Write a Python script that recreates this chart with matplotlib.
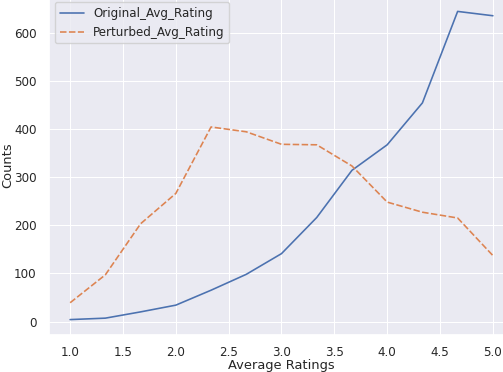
import numpy as np
import matplotlib
matplotlib.use('Agg')
import matplotlib.pyplot as plt
import seaborn as sns

# rating bins and counts
ratings = [1.0, 4/3, 5/3, 2.0, 7/3, 8/3, 3.0, 10/3, 11/3, 4.0, 13/3, 14/3, 5.0]
originalCounts = [4, 7, 20, 34, 65, 98, 141, 216, 314, 367, 454, 644, 635]
perturbedCounts = [39, 97, 203, 266, 404, 394, 368, 367, 323, 248, 227, 215, 137]

sns.set_theme(style='darkgrid')
scale = 0.78

fig = plt.figure(figsize=(5.03, 3.72), dpi=100)
ax = fig.add_axes([49/503, 37/372, 465/503, 339/372])

ax.plot(ratings, originalCounts, color=sns.color_palette()[0], lw=1.5*scale,
        label='Original_Avg_Rating')
ax.plot(ratings, perturbedCounts, color=sns.color_palette()[1], lw=1.5*scale,
        dashes=(4, 1.5), label='Perturbed_Avg_Rating')

ax.set_xlabel('Average Ratings', fontsize=12*scale, labelpad=0)
ax.set_ylabel('Counts', fontsize=12*scale, labelpad=0)
ax.tick_params(axis='x', labelsize=11*scale, pad=2)
ax.tick_params(axis='y', labelsize=11*scale, pad=3)
for gl in ax.get_xgridlines() + ax.get_ygridlines():
    gl.set_linewidth(1.0*scale)
ax.legend(loc='upper left', fontsize=11*scale)

fig.savefig('out.png', dpi=100)
